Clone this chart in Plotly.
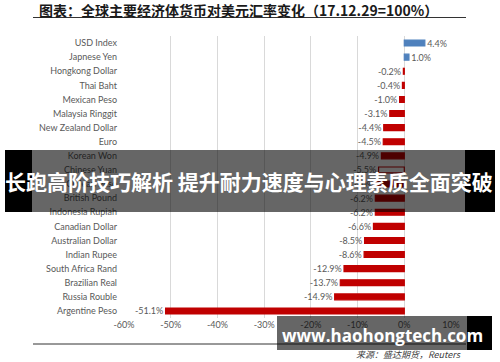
import plotly.graph_objects as go

categories = ["USD Index", "Japnese Yen", "Hongkong Dollar", "Thai Baht", "Mexican Peso",
              "Malaysia Ringgit", "New Zealand Dollar", "Euro", "Korean Won", "Chinese Yuan",
              "Chilean Peso", "British Pound", "Indonesia Rupiah", "Canadian Dollar",
              "Australian Dollar", "Indian Rupee", "South Africa Rand", "Brazilian Real",
              "Russia Rouble", "Argentine Peso"]
values = [4.4, 1.0, -0.2, -0.4, -1.0, -3.1, -4.4, -4.5, -4.9, -5.5,
          -6.0, -6.2, -6.2, -6.6, -8.5, -8.6, -12.9, -13.7, -14.9, -51.1]
x_ticks = [-60, -50, -40, -30, -20, -10, 0, 10]
x_tick_labels = ["-60%", "-50%", "-40%", "-30%", "-20%", "-10%", "0%", "10%"]

title_text = "图表：全球主要经济体货币对美元汇率变化（17.12.29=100%）"
source_text = "来源：盛达期货，Reuters"
banner_text = "长跑高阶技巧解析 提升耐力速度与心理素质全面突破"
watermark_text = "www.haohongtech.com"

W, H = 500, 362
L, R, T, B = 124, 451, 36, 318

BLUE = "#4f81bd"
RED = "#c00000"
NB = "\u00a0"

fill = []
line_col = []
labels = []
for c, v in zip(categories, values):
    if v > 0:
        fill.append(BLUE); line_col.append(BLUE)
        labels.append(NB + f"{v:.1f}%")
    elif c == "Chinese Yuan":
        fill.append("white"); line_col.append(RED)
        labels.append(f"{v:.1f}%" + NB)
    else:
        fill.append(RED); line_col.append(RED)
        labels.append(f"{v:.1f}%" + NB)

fig = go.Figure(go.Bar(
    x=values, y=categories, orientation="h",
    marker=dict(color=fill, line=dict(color=line_col, width=1.2)),
    width=0.42,
    text=labels, textposition="outside",
    constraintext="none",
    textfont=dict(family="Lato", size=9, color="#595959"),
    cliponaxis=False,
))

def xp(px):
    return (px - L) / (R - L)

def yp(py):
    return (B - py) / (B - T)

shapes = [
    dict(type="line", xref="paper", yref="paper", x0=xp(33), x1=xp(466), y0=yp(17.5), y1=yp(17.5),
         line=dict(color="#333333", width=1)),
    dict(type="line", xref="paper", yref="paper", x0=xp(33), x1=xp(466), y0=yp(344), y1=yp(344),
         line=dict(color="#333333", width=1)),
    dict(type="rect", xref="paper", yref="paper", x0=xp(5), x1=xp(32), y0=yp(212), y1=yp(150),
         fillcolor="black", line=dict(width=0), layer="above"),
    dict(type="rect", xref="paper", yref="paper", x0=xp(465), x1=xp(495), y0=yp(212), y1=yp(150),
         fillcolor="black", line=dict(width=0), layer="above"),
    dict(type="rect", xref="paper", yref="paper", x0=xp(32), x1=xp(465), y0=yp(212), y1=yp(150),
         fillcolor="rgba(0,0,0,0.6)", line=dict(width=0), layer="above"),
    dict(type="rect", xref="paper", yref="paper", x0=xp(277), x1=xp(467), y0=yp(350), y1=yp(316),
         fillcolor="rgba(0,0,0,0.6)", line=dict(width=0), layer="above"),
    dict(type="rect", xref="paper", yref="paper", x0=xp(467), x1=xp(492), y0=yp(350), y1=yp(316),
         fillcolor="black", line=dict(width=0), layer="above"),
]

annotations = [
    dict(text=title_text, xref="paper", yref="paper", x=xp(37), y=yp(10), xanchor="left", yanchor="middle",
         showarrow=False, font=dict(family="Noto Sans CJK SC", size=14, color="#1a1a1a", weight="bold")),
    dict(text=source_text, xref="paper", yref="paper", x=xp(463), y=yp(354.5), xanchor="right", yanchor="middle",
         showarrow=False, font=dict(family="Noto Sans CJK SC", size=9, color="#404040", style="italic")),
    dict(text=banner_text, xref="paper", yref="paper", x=xp(249), y=yp(181), xanchor="center", yanchor="middle",
         showarrow=False, font=dict(family="Noto Sans CJK SC", size=21, color="white", weight="bold")),
    dict(text=watermark_text, xref="paper", yref="paper", x=xp(382), y=yp(335), xanchor="center", yanchor="middle",
         showarrow=False, font=dict(family="Open Sans", size=17, color="white", weight="bold")),
]

fig.update_layout(
    template="none",
    width=W, height=H,
    margin=dict(l=L, r=W - R, t=T, b=H - B, pad=0),
    paper_bgcolor="white", plot_bgcolor="white",
    showlegend=False,
    shapes=shapes, annotations=annotations,
    xaxis=dict(range=[-60, 10], tickvals=x_ticks, ticktext=x_tick_labels, automargin=False,
               showgrid=True, gridcolor="#d9d9d9", gridwidth=1, zeroline=False,
               showline=False, ticks="", tickfont=dict(family="Lato", size=9, color="#595959"),
               fixedrange=True),
    yaxis=dict(autorange="reversed", showgrid=False, zeroline=False, showline=False, ticks="",
               automargin=False, ticklabelstandoff=6,
               tickfont=dict(family="Lato", size=9, color="#595959"), fixedrange=True),
    bargap=0.58,
)

fig.write_html("out.html", config={"displayModeBar": False, "staticPlot": True},
               post_script="document.body.style.margin='0';document.body.style.overflow='hidden';")
